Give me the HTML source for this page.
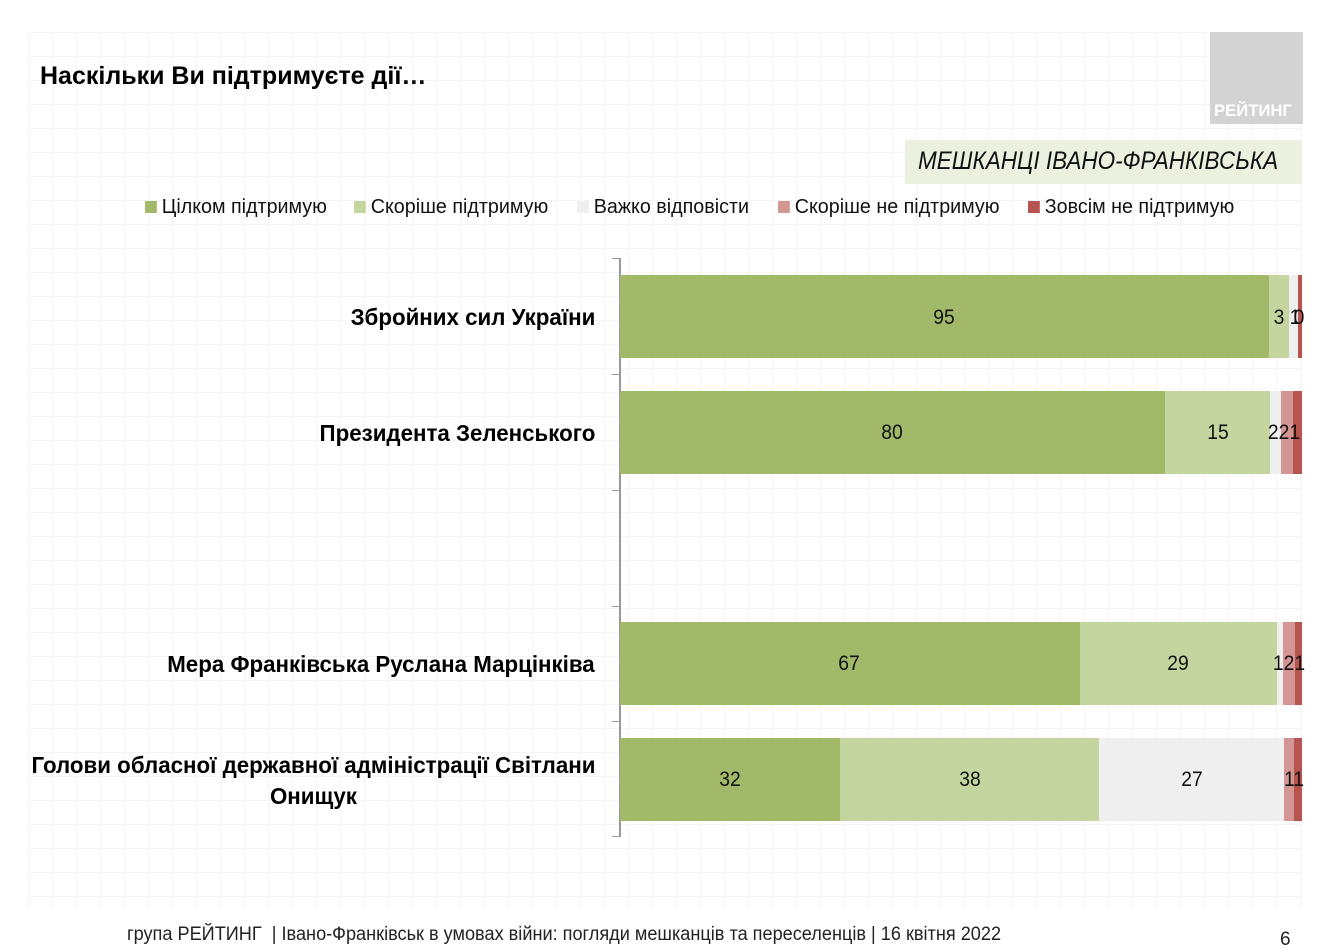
<!DOCTYPE html>
<html><head><meta charset="utf-8"><style>
body{margin:0;width:1332px;height:952px;background:#fff;position:relative;overflow:hidden;font-family:"Liberation Sans",sans-serif;}
.grid{position:absolute;left:28px;top:32px;width:1274px;height:876px;background-image:linear-gradient(#f5f5f5 1px,transparent 1px),linear-gradient(90deg,#f5f5f5 1px,transparent 1px);background-size:24px 24px;}
.abs{position:absolute;white-space:nowrap;}
.seg{position:absolute;}
.lbl{position:absolute;font-size:21px;color:#111;transform:translateX(-50%) scaleX(0.92);}
.cat{position:absolute;right:737px;font-weight:bold;font-size:23px;text-align:center;color:#000;transform:scaleX(0.97);transform-origin:right center;white-space:nowrap;}
.leg{position:absolute;top:196px;font-size:20px;color:#111;transform:scaleX(0.985);transform-origin:left center;white-space:nowrap;}
.leg i{display:inline-block;width:12px;height:12px;margin-right:5px;vertical-align:0px;}
</style></head><body>
<div class="grid"></div>
<div class="abs" style="left:40px;top:62px;font-size:25px;font-weight:bold;">Наскільки Ви підтримуєте дії…</div>
<div class="abs" style="left:1210px;top:32px;width:93px;height:92px;background:#d3d3d3;"></div>
<div class="abs" style="left:1214px;top:101px;font-size:17px;font-weight:bold;color:#fff;transform:scaleX(0.98);transform-origin:left;">РЕЙТИНГ</div>
<div class="abs" style="left:905px;top:140px;width:397px;height:44px;background:#ebf0df;"></div>
<div class="abs" style="left:918px;top:147px;font-size:25px;font-style:italic;color:#111;transform:scaleX(0.9);transform-origin:left center;">МЕШКАНЦІ ІВАНО-ФРАНКІВСЬКА</div>
<div class="leg" style="left:145px"><i style="background:#a3b96a"></i>Цілком підтримую</div>
<div class="leg" style="left:354px"><i style="background:#c5d5a0"></i>Скоріше підтримую</div>
<div class="leg" style="left:577px"><i style="background:#efefef"></i>Важко відповісти</div>
<div class="leg" style="left:778px"><i style="background:#d49595"></i>Скоріше не підтримую</div>
<div class="leg" style="left:1028px"><i style="background:#b85450"></i>Зовсім не підтримую</div>
<div class="abs" style="left:619px;top:258px;width:2px;height:579px;background:#999;"></div>
<div class="abs" style="left:612px;top:258px;width:8px;height:1px;background:#999;"></div>
<div class="abs" style="left:612px;top:374px;width:8px;height:1px;background:#999;"></div>
<div class="abs" style="left:612px;top:490px;width:8px;height:1px;background:#999;"></div>
<div class="abs" style="left:612px;top:606px;width:8px;height:1px;background:#999;"></div>
<div class="abs" style="left:612px;top:721px;width:8px;height:1px;background:#999;"></div>
<div class="abs" style="left:612px;top:836px;width:8px;height:1px;background:#999;"></div>
<div class="seg" style="left:620px;top:275px;width:649px;height:83px;background:#a3b96a"></div>
<div class="seg" style="left:1269px;top:275px;width:20px;height:83px;background:#c5d5a0"></div>
<div class="seg" style="left:1289px;top:275px;width:9px;height:83px;background:#efefef"></div>
<div class="seg" style="left:1298px;top:275px;width:4px;height:83px;background:#b85450"></div>
<div class="lbl" style="left:944px;top:306px">95</div>
<div class="lbl" style="left:1279px;top:306px">3</div>
<div class="lbl" style="left:1295px;top:306px">1</div>
<div class="lbl" style="left:1299px;top:306px">0</div>
<div class="seg" style="left:620px;top:391px;width:545px;height:83px;background:#a3b96a"></div>
<div class="seg" style="left:1165px;top:391px;width:105px;height:83px;background:#c5d5a0"></div>
<div class="seg" style="left:1270px;top:391px;width:11px;height:83px;background:#efefef"></div>
<div class="seg" style="left:1281px;top:391px;width:12px;height:83px;background:#d49595"></div>
<div class="seg" style="left:1293px;top:391px;width:9px;height:83px;background:#b85450"></div>
<div class="lbl" style="left:892px;top:421px">80</div>
<div class="lbl" style="left:1218px;top:421px">15</div>
<div class="lbl" style="left:1284px;top:421px">221</div>
<div class="seg" style="left:620px;top:622px;width:460px;height:83px;background:#a3b96a"></div>
<div class="seg" style="left:1080px;top:622px;width:197px;height:83px;background:#c5d5a0"></div>
<div class="seg" style="left:1277px;top:622px;width:6px;height:83px;background:#efefef"></div>
<div class="seg" style="left:1283px;top:622px;width:12px;height:83px;background:#d49595"></div>
<div class="seg" style="left:1295px;top:622px;width:7px;height:83px;background:#b85450"></div>
<div class="lbl" style="left:849px;top:652px">67</div>
<div class="lbl" style="left:1178px;top:652px">29</div>
<div class="lbl" style="left:1289px;top:652px">121</div>
<div class="seg" style="left:620px;top:738px;width:220px;height:83px;background:#a3b96a"></div>
<div class="seg" style="left:840px;top:738px;width:259px;height:83px;background:#c5d5a0"></div>
<div class="seg" style="left:1099px;top:738px;width:185px;height:83px;background:#efefef"></div>
<div class="seg" style="left:1284px;top:738px;width:10px;height:83px;background:#d49595"></div>
<div class="seg" style="left:1294px;top:738px;width:8px;height:83px;background:#b85450"></div>
<div class="lbl" style="left:730px;top:768px">32</div>
<div class="lbl" style="left:970px;top:768px">38</div>
<div class="lbl" style="left:1192px;top:768px">27</div>
<div class="lbl" style="left:1294px;top:768px">11</div>
<div class="cat" style="top:304px">Збройних сил України</div>
<div class="cat" style="top:420px">Президента Зеленського</div>
<div class="cat" style="top:651px">Мера Франківська Руслана Марцінківа</div>
<div class="cat" style="top:750px;line-height:31px;">Голови обласної державної адміністрації Світлани<br>Онищук</div>
<div class="abs" style="left:127px;top:924px;font-size:19px;color:#222;transform:scaleX(0.954);transform-origin:left center;">група РЕЙТИНГ &nbsp;| Івано-Франківськ в умовах війни: погляди мешканців та переселенців | 16 квітня 2022</div>
<div class="abs" style="left:1280px;top:929px;font-size:19px;color:#222;">6</div>
</body></html>
